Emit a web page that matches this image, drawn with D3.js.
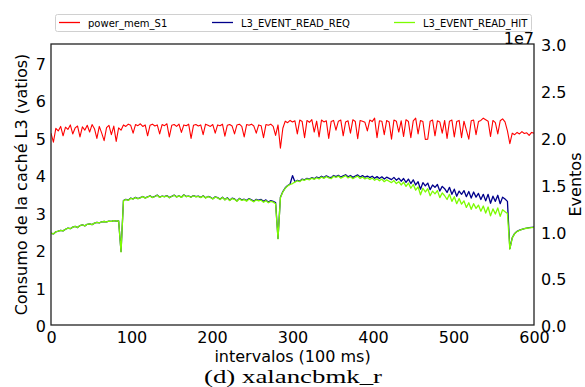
<!DOCTYPE html>
<html>
<head>
<meta charset="utf-8">
<script src="https://cdn.jsdelivr.net/npm/d3@7"></script>
<style>
  body { margin: 0; background: #fff; }
  svg { display: block; font-family: "DejaVu Sans", sans-serif; }
</style>
</head>
<body>
<svg id="chart" width="585" height="387"></svg>
<script>
// Sampling intervals (100 ms each), every third interval
const intervals = d3.range(0, 601, 3);

// L3 cache power, watts
const powerMem = [
  5.12, 4.88, 5.25, 5.18, 5.30, 5.05, 5.28, 5.22, 5.34, 5.10,
  5.26, 5.31, 5.02, 5.29, 5.20, 5.33, 5.15, 5.35, 5.24, 4.98,
  5.30, 5.12, 4.92, 5.27, 5.33, 5.08, 5.31, 4.90, 5.26, 5.20,
  5.34, 5.30, 5.36, 5.33, 5.12, 5.35, 5.32, 5.37, 5.30, 5.34,
  5.05, 5.33, 5.36, 5.31, 5.34, 5.10, 5.35, 5.32, 5.37, 5.02,
  5.33, 5.35, 5.30, 5.36, 5.14, 5.34, 5.32, 5.36, 4.98, 5.33,
  5.35, 5.31, 5.34, 5.08, 5.36, 5.33, 5.30, 5.35, 5.12, 5.34,
  5.32, 5.36, 5.04, 5.33, 5.35, 5.31, 5.10, 5.34, 5.36, 5.30,
  5.02, 5.35, 5.33, 5.36, 5.31, 5.12, 5.34, 5.32, 5.00, 5.35,
  5.33, 5.36, 5.30, 5.06, 5.34, 4.72, 5.25, 5.44, 5.40, 5.46,
  5.42, 5.45, 5.10, 5.47, 5.43, 5.00, 5.46, 5.41, 5.48, 5.15,
  5.44, 5.02, 5.47, 5.42, 5.45, 4.98, 5.43, 5.46, 5.20, 5.44,
  5.47, 5.05, 5.42, 5.45, 5.12, 5.48, 5.43, 4.97, 5.46, 5.44,
  5.41, 5.18, 5.47, 5.43, 5.52, 5.00, 5.45, 5.44, 5.08, 5.46,
  5.42, 4.96, 5.47, 5.44, 5.15, 5.45, 5.03, 5.48, 5.43, 5.00,
  5.45, 5.52, 5.10, 5.46, 5.43, 4.95, 4.96, 5.44, 5.47, 5.05,
  5.45, 5.42, 5.12, 5.46, 4.98, 5.44, 5.47, 5.02, 5.43, 5.46,
  5.00, 5.44, 5.20, 4.96, 5.45, 5.47, 5.08, 5.43, 5.46, 5.52,
  5.48, 5.44, 5.03, 5.46, 5.40, 5.10, 5.45, 5.50, 5.42, 5.18,
  4.84, 5.12, 5.08, 5.14, 5.10, 5.16, 5.11, 5.13, 5.06, 5.14,
  5.12
];

// L3_EVENT_READ_REQ, millions of events
const readReq = [
  9.80, 9.72, 9.95, 10.02, 10.10, 10.05, 10.22, 10.35, 10.28, 10.45,
  10.52, 10.40, 10.62, 10.70, 10.58, 10.75, 10.80, 10.72, 10.88, 10.95,
  10.90, 11.02, 11.05, 11.00, 11.10, 11.06, 11.15, 11.08, 11.12, 7.85,
  13.28, 13.42, 13.33, 13.55, 13.47, 13.62, 13.50, 13.60, 13.72, 13.57,
  13.67, 13.80, 13.62, 13.74, 13.87, 13.64, 13.77, 13.70, 13.82, 13.60,
  13.74, 13.87, 13.68, 13.80, 13.64, 13.90, 13.72, 13.77, 13.66, 13.82,
  13.70, 13.76, 13.62, 13.80, 13.58, 13.72, 13.64, 13.48, 13.68, 13.60,
  13.43, 13.65, 13.38, 13.58, 13.32, 13.54, 13.46, 13.25, 13.52, 13.35,
  13.43, 13.28, 13.50, 13.36, 13.22, 13.42, 13.32, 13.40, 13.20, 13.36,
  13.12, 13.28, 13.20, 13.08, 9.25, 13.65, 14.25, 14.65, 14.90, 15.05,
  15.95, 15.30, 15.45, 15.36, 15.58, 15.50, 15.66, 15.56, 15.74, 15.62,
  15.80, 15.68, 15.88, 15.74, 15.92, 15.78, 15.72, 15.96, 15.84, 15.98,
  15.78, 15.92, 16.04, 15.82, 15.96, 15.76, 15.90, 16.02, 15.80, 15.95,
  15.78, 15.90, 15.74, 15.88, 15.66, 15.84, 15.64, 15.82, 15.58, 15.78,
  15.66, 15.52, 15.76, 15.46, 15.68, 15.35, 15.64, 15.22, 15.58, 15.10,
  15.50, 14.95, 15.30, 14.50, 15.20, 14.85, 15.15, 14.45, 14.95, 14.70,
  15.00, 14.30, 14.80, 14.55, 14.15, 14.70, 13.95, 14.50, 13.75, 14.30,
  13.95, 14.35, 13.70, 14.25, 13.55, 14.20, 13.65, 14.05, 13.40, 13.95,
  13.25, 13.95, 13.00, 13.75, 13.20, 13.85, 12.95, 13.65, 13.45, 13.20,
  8.15, 9.32, 9.78, 10.00, 10.12, 10.22, 10.30, 10.35, 10.40, 10.42,
  10.44
];

// L3_EVENT_READ_HIT, millions of events
const readHit = [
  9.80, 9.72, 9.95, 10.02, 10.10, 10.05, 10.22, 10.35, 10.28, 10.45,
  10.52, 10.40, 10.62, 10.70, 10.58, 10.75, 10.80, 10.72, 10.88, 10.95,
  10.90, 11.02, 11.05, 11.00, 11.10, 11.06, 11.15, 11.08, 11.12, 7.80,
  13.25, 13.40, 13.30, 13.52, 13.45, 13.60, 13.48, 13.58, 13.70, 13.55,
  13.65, 13.78, 13.60, 13.72, 13.85, 13.62, 13.75, 13.68, 13.80, 13.58,
  13.72, 13.85, 13.66, 13.78, 13.62, 13.88, 13.70, 13.75, 13.64, 13.80,
  13.68, 13.74, 13.60, 13.78, 13.55, 13.70, 13.62, 13.45, 13.66, 13.58,
  13.40, 13.62, 13.35, 13.55, 13.28, 13.50, 13.42, 13.20, 13.48, 13.30,
  13.38, 13.22, 13.45, 13.30, 13.15, 13.36, 13.25, 13.32, 13.10, 13.28,
  13.05, 13.20, 13.12, 12.95, 9.20, 13.60, 14.20, 14.60, 14.85, 15.00,
  15.10, 15.25, 15.40, 15.30, 15.52, 15.45, 15.60, 15.50, 15.68, 15.55,
  15.72, 15.60, 15.80, 15.65, 15.85, 15.70, 15.62, 15.88, 15.75, 15.90,
  15.68, 15.82, 15.95, 15.70, 15.85, 15.62, 15.78, 15.90, 15.65, 15.80,
  15.60, 15.72, 15.55, 15.68, 15.45, 15.62, 15.40, 15.58, 15.30, 15.50,
  15.35, 15.20, 15.42, 15.10, 15.30, 14.95, 15.25, 14.80, 15.15, 14.60,
  15.00, 14.40, 14.75, 13.90, 14.60, 14.20, 14.55, 13.80, 14.30, 14.00,
  14.35, 13.60, 14.10, 13.80, 13.40, 13.95, 13.20, 13.70, 12.95, 13.50,
  12.90, 13.25, 12.55, 13.05, 12.35, 12.95, 12.45, 12.80, 12.15, 12.70,
  11.95, 12.60, 11.65, 12.40, 11.85, 12.50, 11.60, 12.30, 12.10, 11.90,
  8.10, 9.30, 9.75, 9.98, 10.10, 10.20, 10.28, 10.33, 10.38, 10.40,
  10.42
];

const xTicks = [0, 100, 200, 300, 400, 500, 600];
const leftTicks = [0, 1, 2, 3, 4, 5, 6, 7];
const rightTicks = [0, 5, 10, 15, 20, 25, 30]; // millions -> shown as x1e7

const legendItems = [
  { label: "power_mem_S1", color: "#ff0000", x: 59 },
  { label: "L3_EVENT_READ_REQ", color: "#00008b", x: 212 },
  { label: "L3_EVENT_READ_HIT", color: "#7cfc00", x: 394 }
];

const SANS = "'DejaVu Sans', sans-serif";
const SERIF = "'Liberation Serif', 'DejaVu Serif', serif";

const svg = d3.select("#chart");
const plot = { left: 51, right: 534, top: 44, bottom: 325 };

const x = d3.scaleLinear().domain([0, 600]).range([plot.left, plot.right]);
const yPower = d3.scaleLinear().domain([0, 7.5]).range([plot.bottom, plot.top]);
const yEvents = d3.scaleLinear().domain([0, 30]).range([plot.bottom, plot.top]);

svg.append("defs").append("clipPath").attr("id", "plot-clip")
  .append("rect")
  .attr("x", plot.left).attr("y", plot.top)
  .attr("width", plot.right - plot.left).attr("height", plot.bottom - plot.top);

const lines = svg.append("g").attr("clip-path", "url(#plot-clip)");

const powerLine = d3.line().x((d, i) => x(intervals[i])).y(d => yPower(d));
const eventLine = d3.line().x((d, i) => x(intervals[i])).y(d => yEvents(d));

lines.append("path").datum(powerMem)
  .attr("d", powerLine).attr("fill", "none")
  .attr("stroke", "#ff0000").attr("stroke-width", 1.1).attr("stroke-linejoin", "round");
lines.append("path").datum(readReq)
  .attr("d", eventLine).attr("fill", "none")
  .attr("stroke", "#00008b").attr("stroke-width", 1.3).attr("stroke-linejoin", "round");
lines.append("path").datum(readHit)
  .attr("d", eventLine).attr("fill", "none")
  .attr("stroke", "#7cfc00").attr("stroke-width", 1.3).attr("stroke-linejoin", "round");

// Axes (tick marks hidden, labels only)
function styleAxis(g) {
  g.attr("font-family", null).attr("font-size", null);
  g.select(".domain").remove();
  g.selectAll("line").remove();
  g.selectAll("text").style("font-size", "16px").style("font-family", SANS).attr("fill", "#000");
}

svg.append("g").attr("transform", `translate(0,${plot.bottom})`)
  .call(d3.axisBottom(x).tickValues(xTicks).tickSize(0).tickPadding(7).tickFormat(d3.format("d")))
  .call(styleAxis);

svg.append("g").attr("transform", `translate(${plot.left},0)`)
  .call(d3.axisLeft(yPower).tickValues(leftTicks).tickSize(0).tickPadding(5).tickFormat(d3.format("d")))
  .call(styleAxis)
  .selectAll("text").attr("dy", "0.42em");

svg.append("g").attr("transform", `translate(${plot.right},0)`)
  .call(d3.axisRight(yEvents).tickValues(rightTicks).tickSize(0).tickPadding(7).tickFormat(d => (d / 10).toFixed(1)))
  .call(styleAxis)
  .selectAll("text").attr("dy", "0.42em");

// Frame
svg.append("rect")
  .attr("x", plot.left).attr("y", plot.top)
  .attr("width", plot.right - plot.left).attr("height", plot.bottom - plot.top)
  .attr("fill", "none").attr("stroke", "#222").attr("stroke-width", 1.3);

// Axis titles
svg.append("text")
  .attr("transform", `translate(27,${(plot.top + plot.bottom) / 2}) rotate(-90)`)
  .attr("text-anchor", "middle")
  .style("font-size", "16px").style("font-family", SANS)
  .text("Consumo de la caché L3 (vatios)");

svg.append("text")
  .attr("transform", `translate(581,${(plot.top + plot.bottom) / 2}) rotate(-90)`)
  .attr("text-anchor", "middle")
  .style("font-size", "16px").style("font-family", SANS)
  .text("Eventos");

svg.append("text").attr("x", (plot.left + plot.right) / 2).attr("y", 362)
  .attr("text-anchor", "middle")
  .style("font-size", "16px").style("font-family", SANS)
  .text("intervalos (100 ms)");

svg.append("text").attr("x", 293).attr("y", 382.5)
  .attr("text-anchor", "middle")
  .style("font-size", "19px").style("font-family", SERIF)
  .attr("textLength", 178).attr("lengthAdjust", "spacingAndGlyphs")
  .text("(d) xalancbmk_r");

// Legend
const legend = svg.append("g");
legend.append("rect")
  .attr("x", 55.5).attr("y", 14.5).attr("width", 476).attr("height", 17)
  .attr("rx", 2).attr("fill", "#fff").attr("fill-opacity", 0.8)
  .attr("stroke", "#d0d0d0").attr("stroke-width", 1);
const item = legend.selectAll("g.item").data(legendItems).join("g").attr("class", "item");
item.append("line")
  .attr("x1", d => d.x).attr("x2", d => d.x + 21)
  .attr("y1", 22.5).attr("y2", 22.5)
  .attr("stroke", d => d.color).attr("stroke-width", 1.3);
item.append("text")
  .attr("x", d => d.x + 29).attr("y", 26.5)
  .style("font-size", "10px").style("font-family", SANS)
  .text(d => d.label);

// Offset label for the right axis
svg.append("text").attr("x", plot.right).attr("y", 44)
  .attr("text-anchor", "end")
  .style("font-size", "16px").style("font-family", SANS)
  .text("1e7");
</script>
</body>
</html>
